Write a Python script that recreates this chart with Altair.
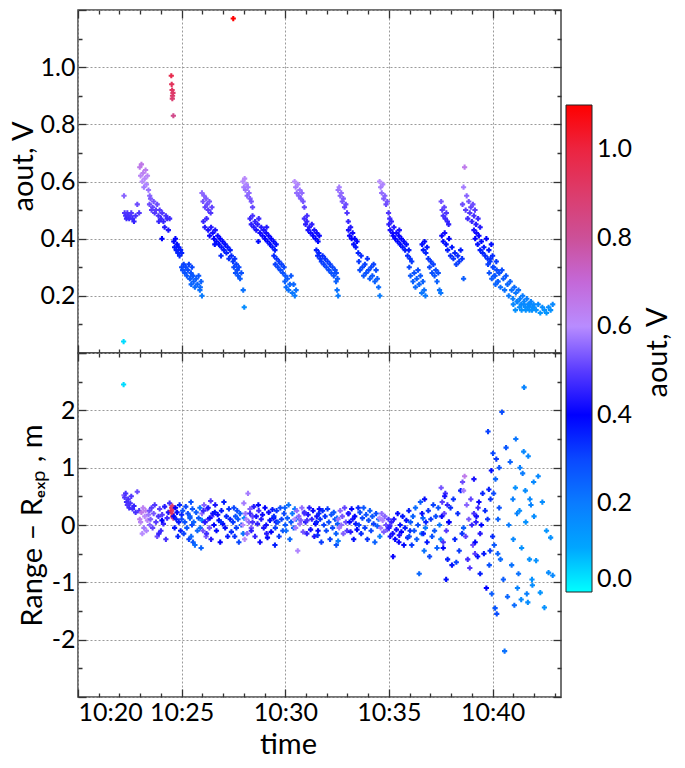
import altair as alt
import pandas as pd

# ---------------- data ----------------
# time in minutes after 10:00, aout in V, Range - R_exp in m
seg1_min = [22.22, 22.25, 22.30, 22.34, 22.38, 22.42, 22.47, 22.52, 22.57, 22.63, 22.70, 22.78, 22.86, 22.95,
            22.98, 23.02, 23.06, 23.10, 23.14, 23.18, 23.22, 23.26, 23.30, 23.35, 23.40, 23.46,
            23.45, 23.50, 23.55, 23.60, 23.65, 23.70, 23.76, 23.82, 23.88, 23.94, 24.00, 24.06, 24.12, 24.18, 24.24, 24.30, 24.36, 24.42, 23.90, 24.05,
            24.50, 24.52, 24.54, 24.56, 24.58, 24.55, 24.60,
            24.62, 24.66, 24.70, 24.74, 24.78, 24.82, 24.86, 24.90, 24.95, 25.00,
            25.00, 25.05, 25.10, 25.15, 25.20, 25.25, 25.30, 25.35, 25.40, 25.45, 25.50, 25.55,
            25.40, 25.46, 25.52, 25.58, 25.64, 25.70, 25.76, 25.82, 25.88, 25.94, 25.98, 25.90]
seg1_aout = [0.55, 0.49, 0.48, 0.47, 0.49, 0.48, 0.47, 0.48, 0.49, 0.47, 0.46, 0.48, 0.52, 0.49,
             0.65, 0.62, 0.66, 0.60, 0.63, 0.58, 0.61, 0.64, 0.59, 0.62, 0.57, 0.55,
             0.52, 0.54, 0.50, 0.51, 0.53, 0.49, 0.50, 0.52, 0.48, 0.50, 0.47, 0.49, 0.46, 0.44, 0.48, 0.47, 0.43, 0.47, 0.46, 0.40,
             0.97, 0.94, 0.92, 0.90, 0.91, 0.89, 0.83,
             0.39, 0.37, 0.40, 0.36, 0.38, 0.35, 0.37, 0.34, 0.36, 0.35,
             0.30, 0.29, 0.31, 0.28, 0.30, 0.27, 0.29, 0.31, 0.26, 0.28, 0.30, 0.27,
             0.26, 0.24, 0.27, 0.25, 0.23, 0.26, 0.24, 0.27, 0.22, 0.25, 0.20, 0.23]
seg1_dr = [0.52, 0.48, 0.55, 0.40, 0.35, 0.45, 0.30, 0.38, 0.50, 0.28, 0.33, 0.22, 0.58, 0.25,
           0.10, 0.05, 0.22, -0.15, 0.30, -0.05, 0.15, 0.25, -0.10, 0.08, 0.18, 0.00,
           0.25, 0.10, 0.30, -0.05, 0.20, 0.35, 0.05, -0.20, 0.15, 0.28, -0.10, 0.18, 0.02, 0.32, -0.25, 0.12, 0.22, 0.38, -0.15, 0.08,
           0.25, 0.30, 0.20, 0.15, 0.28, 0.33, 0.12,
           0.15, -0.05, 0.30, 0.10, 0.22, -0.20, 0.05, 0.35, -0.10, 0.18,
           0.10, 0.25, -0.15, 0.05, 0.32, -0.05, 0.20, -0.25, 0.12, 0.40, 0.00, -0.30,
           0.15, -0.20, 0.28, 0.05, -0.35, 0.22, -0.10, 0.12, 0.30, -0.40, 0.08, -0.05]

seg2_min = [25.98, 26.03, 26.08, 26.13, 26.18, 26.23, 26.28, 26.34, 26.40, 26.46,
            26.05, 26.12, 26.20, 26.28, 26.35, 26.42, 26.50, 26.56, 26.62, 26.68, 26.74, 26.80, 26.86, 26.92, 26.98, 27.04, 27.10, 27.16, 27.22, 27.28, 27.34, 27.40, 26.60, 26.90,
            27.48, 27.52, 27.56, 27.60, 27.64, 27.68, 27.72, 27.76, 27.82, 27.88, 27.97, 28.02]
seg2_aout = [0.56, 0.53, 0.55, 0.51, 0.54, 0.52, 0.50, 0.53, 0.49, 0.51,
             0.46, 0.44, 0.47, 0.43, 0.41, 0.44, 0.42, 0.40, 0.43, 0.39, 0.41, 0.38, 0.40, 0.37, 0.39, 0.36, 0.38, 0.35, 0.37, 0.33, 0.36, 0.34, 0.38, 0.34,
             0.32, 0.30, 0.33, 0.28, 0.31, 0.29, 0.27, 0.30, 0.26, 0.28, 0.22, 0.16]
seg2_dr = [0.20, -0.10, 0.35, 0.05, -0.20, 0.28, 0.10, -0.05, 0.42, 0.15,
           0.25, 0.05, -0.15, 0.30, 0.12, -0.25, 0.20, 0.00, 0.35, -0.10, 0.18, 0.08, -0.30, 0.25, 0.02, 0.40, -0.05, 0.15, -0.20, 0.28, 0.10, -0.12, 0.22, 0.05,
           0.05, 0.30, -0.20, 0.15, -0.05, 0.25, 0.10, -0.30, 0.20, 0.00, -0.15, 0.12]

seg3_min = [27.95, 28.00, 28.04, 28.08, 28.12, 28.16, 28.20, 28.25, 28.30, 28.36, 28.42,
            28.30, 28.36, 28.42, 28.48, 28.54, 28.60, 28.66, 28.72, 28.78, 28.84, 28.90, 28.96, 29.02, 29.08, 29.14, 29.20, 29.26, 29.32, 29.38, 29.44, 29.50, 29.56, 28.70, 29.10,
            29.45, 29.52, 29.58, 29.64, 29.70, 29.76, 29.82, 29.88, 29.94, 30.00,
            29.98, 30.04, 30.10, 30.16, 30.22, 30.28, 30.34, 30.40, 30.46, 30.52]
seg3_aout = [0.60, 0.58, 0.61, 0.57, 0.59, 0.55, 0.58, 0.56, 0.54, 0.53, 0.51,
             0.47, 0.45, 0.48, 0.44, 0.46, 0.43, 0.45, 0.47, 0.42, 0.44, 0.41, 0.43, 0.40, 0.42, 0.39, 0.41, 0.38, 0.40, 0.37, 0.39, 0.36, 0.38, 0.39, 0.44,
             0.34, 0.31, 0.33, 0.30, 0.32, 0.29, 0.31, 0.28, 0.30, 0.27,
             0.25, 0.23, 0.26, 0.22, 0.24, 0.27, 0.21, 0.24, 0.20, 0.22]
seg3_dr = [0.00, 0.38, -0.25, 0.20, 0.10, -0.15, 0.55, 0.05, 0.28, -0.05, 0.15,
           0.20, -0.10, 0.05, 0.32, -0.20, 0.15, 0.02, 0.25, -0.30, 0.10, 0.18, -0.05, 0.30, 0.00, -0.22, 0.22, 0.08, -0.12, 0.27, 0.12, -0.35, 0.05, 0.35, -0.15,
           0.15, -0.05, 0.25, 0.05, -0.20, 0.30, 0.10, -0.10, 0.20, 0.00,
           0.30, -0.10, 0.12, 0.35, -0.25, 0.05, 0.20, -0.05, 0.28, 0.10]

seg4_min = [30.45, 30.50, 30.55, 30.60, 30.65, 30.70, 30.75, 30.80, 30.86, 30.92,
            30.92, 30.98, 31.04, 31.10, 31.16, 31.22, 31.28, 31.34, 31.40, 31.46, 31.52, 31.58, 31.64, 31.05,
            31.50, 31.56, 31.62, 31.68, 31.74, 31.80, 31.86, 31.92, 31.98, 32.04, 32.10, 32.16, 32.22, 32.28, 32.34, 32.40, 32.46, 32.52, 32.45, 32.50, 32.55]
seg4_aout = [0.60, 0.58, 0.56, 0.59, 0.55, 0.57, 0.54, 0.56, 0.53, 0.51,
             0.47, 0.45, 0.46, 0.43, 0.44, 0.42, 0.45, 0.41, 0.43, 0.40, 0.42, 0.39, 0.41, 0.48,
             0.36, 0.34, 0.35, 0.33, 0.32, 0.34, 0.31, 0.33, 0.30, 0.32, 0.29, 0.31, 0.28, 0.30, 0.27, 0.29, 0.28, 0.26, 0.25, 0.22, 0.20]
seg4_dr = [0.10, -0.05, 0.25, -0.45, 0.15, 0.02, 0.08, 0.30, -0.12, 0.20,
           0.22, 0.05, -0.15, 0.18, 0.30, -0.08, 0.10, 0.25, -0.20, 0.02, 0.15, -0.10, 0.28, 0.08,
           0.05, -0.18, 0.20, 0.10, -0.30, 0.25, 0.00, 0.15, -0.10, 0.28, 0.05, -0.25, 0.18, -0.05, 0.22, 0.10, -0.35, 0.02, -0.15, 0.12, -0.28]

seg5_min = [32.55, 32.60, 32.65, 32.70, 32.75, 32.80, 32.86, 32.92, 32.98, 33.04,
            33.05, 33.10, 33.15, 33.20, 33.25, 33.30, 33.35, 33.40, 33.46, 33.52,
            33.55, 33.60, 33.66, 33.72, 33.78, 33.84, 33.90, 33.96, 34.02, 34.08, 34.14, 34.20, 34.26, 34.32, 34.38, 34.44, 34.50, 34.56]
seg5_aout = [0.57, 0.58, 0.55, 0.56, 0.53, 0.54, 0.51, 0.52, 0.49, 0.46,
             0.43, 0.41, 0.44, 0.40, 0.42, 0.38, 0.40, 0.37, 0.39, 0.35,
             0.32, 0.29, 0.34, 0.30, 0.27, 0.31, 0.28, 0.33, 0.29, 0.26, 0.30, 0.27, 0.31, 0.25, 0.29, 0.26, 0.23, 0.20]
seg5_dr = [0.10, -0.05, 0.25, 0.00, 0.15, -0.15, 0.30, 0.05, -0.10, 0.20,
           0.20, 0.05, -0.12, 0.28, 0.10, -0.25, 0.15, 0.02, -0.08, 0.30,
           0.00, 0.22, -0.15, 0.12, 0.30, -0.05, 0.18, -0.25, 0.08, 0.25, -0.10, 0.15, 0.02, -0.30, 0.20, -0.02, 0.10, -0.20]

seg6_min = [34.55, 34.60, 34.65, 34.70, 34.75, 34.80, 34.86, 34.92, 34.98, 35.04,
            35.00, 35.06, 35.12, 35.18, 35.24, 35.30, 35.36, 35.42, 35.48, 35.54, 35.60, 35.66, 35.72, 35.78, 35.84, 35.90, 35.96, 36.02, 35.20, 35.50,
            35.98, 36.04, 36.10, 36.16, 36.22, 36.28, 36.34, 36.40, 36.46, 36.52, 36.58, 36.64, 36.70, 36.76,
            36.60, 36.66, 36.72, 36.78, 36.84, 36.90, 36.96, 37.02, 37.08, 37.14, 37.20, 37.26, 37.32, 37.38, 37.44, 37.50]
seg6_aout = [0.60, 0.58, 0.56, 0.59, 0.54, 0.55, 0.52, 0.53, 0.49, 0.47,
             0.45, 0.43, 0.46, 0.42, 0.44, 0.40, 0.42, 0.39, 0.41, 0.38, 0.40, 0.37, 0.39, 0.36, 0.38, 0.34, 0.36, 0.33, 0.41, 0.43,
             0.30, 0.27, 0.32, 0.25, 0.28, 0.23, 0.26, 0.29, 0.24, 0.27, 0.21, 0.25, 0.22, 0.20,
             0.38, 0.36, 0.39, 0.35, 0.37, 0.33, 0.30, 0.32, 0.28, 0.31, 0.27, 0.29, 0.25, 0.28, 0.22, 0.21]
seg6_dr = [0.12, -0.05, 0.20, 0.08, -0.12, 0.15, 0.00, -0.08, 0.10, -0.02,
           -0.05, -0.20, 0.05, -0.15, 0.10, -0.25, -0.08, 0.20, -0.30, 0.00, -0.12, 0.15, -0.35, -0.05, 0.08, -0.22, 0.25, -0.10, -0.55, -0.18,
           -0.20, 0.05, -0.35, 0.15, -0.10, 0.30, -0.25, 0.00, -0.85, 0.40, -0.15, 0.12, -0.45, -0.05,
           0.20, -0.15, 0.45, 0.05, -0.30, 0.25, -0.55, 0.10, -0.20, 0.35, -0.10, 0.15, -0.40, 0.30, 0.00, -0.25]

seg7_min = [37.52, 37.57, 37.62, 37.67, 37.72, 37.77, 37.82, 37.88,
            37.55, 37.62, 37.69, 37.76, 37.83, 37.90, 37.97, 38.04, 38.11, 38.18, 38.25, 38.32, 38.39, 38.46, 38.53, 38.60,
            38.55, 38.60, 38.65, 38.70, 38.75, 38.80, 38.85, 38.90, 38.95, 39.00, 39.05, 39.10, 39.15, 39.20, 39.30, 39.40,
            39.10, 39.16, 39.22, 39.28, 39.34, 39.40, 39.46, 39.52, 39.58, 39.64, 39.70, 39.76, 39.82, 39.88, 39.94, 40.00,
            39.78, 39.84, 39.90, 39.96, 40.02, 40.08, 40.14, 40.20, 40.26, 40.32]
seg7_aout = [0.53, 0.50, 0.48, 0.51, 0.47, 0.49, 0.46, 0.45,
             0.41, 0.39, 0.42, 0.38, 0.36, 0.40, 0.34, 0.37, 0.33, 0.35, 0.31, 0.34, 0.32, 0.36, 0.33, 0.26,
             0.52, 0.58, 0.65, 0.50, 0.55, 0.47, 0.53, 0.49, 0.51, 0.46, 0.52, 0.48, 0.50, 0.45, 0.47, 0.44,
             0.43, 0.40, 0.42, 0.38, 0.41, 0.36, 0.39, 0.35, 0.37, 0.34, 0.40, 0.33, 0.36, 0.32, 0.38, 0.34,
             0.31, 0.28, 0.33, 0.26, 0.30, 0.27, 0.24, 0.29, 0.25, 0.28]
seg7_dr = [0.65, 0.40, -0.30, 0.20, 0.55, -0.10, 0.35, 0.05,
           0.15, -0.40, 0.50, -0.95, -0.60, 0.05, 0.30, -0.70, 0.45, -0.25, -0.65, 0.20, -0.45, 0.60, -0.15, -0.05,
           0.75, 0.60, 0.85, -0.20, 0.35, -0.60, 0.10, -0.75, 0.45, 0.00, -0.35, 0.20, -0.50, 0.05, 0.30, -0.15,
           0.80, -0.30, 0.15, -0.55, 0.40, -0.85, 0.00, 0.55, -0.50, 0.25, -1.10, 0.10, 0.62, -0.45, 0.95, -0.20,
           1.63, -0.70, 0.45, -1.20, 1.25, -0.35, 0.80, -1.55, 0.10, 1.00]

seg8_min = [40.05, 40.12, 40.18, 40.25, 40.32, 40.38, 40.45, 40.52, 40.58, 40.65,
            40.72, 40.78, 40.85, 40.92, 40.98, 41.05, 41.12, 41.18, 41.25, 41.32,
            41.38, 41.45, 41.52, 41.58, 41.65, 41.72, 41.78, 41.85, 41.92, 41.98,
            41.00, 41.10, 41.20, 41.30, 41.40, 41.50, 41.60, 41.70, 41.80, 41.90,
            42.00, 42.10, 42.20, 42.30, 42.40, 42.50, 42.60, 42.70, 42.80, 42.90]
seg8_aout = [0.30, 0.27, 0.32, 0.25, 0.28, 0.23, 0.29, 0.26, 0.22, 0.27,
             0.24, 0.20, 0.25, 0.22, 0.19, 0.23, 0.21, 0.18, 0.22, 0.19,
             0.17, 0.20, 0.18, 0.16, 0.19, 0.17, 0.15, 0.18, 0.16, 0.17,
             0.17, 0.15, 0.18, 0.16, 0.15, 0.17, 0.15, 0.16, 0.17, 0.15,
             0.16, 0.15, 0.17, 0.14, 0.16, 0.15, 0.14, 0.16, 0.15, 0.17]
seg8_dr = [0.55, -1.45, 1.15, -0.50, 0.30, -0.60, 1.97, -0.95, -2.20, 1.35,
           -1.25, 0.00, 1.10, -0.70, 0.45, -1.40, 1.50, 0.20, -0.85, 1.00,
           -1.30, 0.90, 2.40, 0.60, -1.20, 1.20, -0.60, 0.35, -1.05, 0.75,
           -0.25, 0.65, -1.10, 0.25, -0.40, 1.28, 0.05, -1.35, 0.45, -0.95,
           0.15, -0.62, 0.85, -1.18, 0.40, -1.44, -0.10, -0.83, -0.22, -0.88]

outlier_min = [22.20, 27.49]
outlier_aout = [0.04, 1.17]
outlier_dr = [2.45, None]

# axis tick values and colour-bar values
X_TICKS = [20, 21, 22, 23, 24, 25, 26, 27, 28, 29, 30, 31, 32, 33, 34, 35, 36, 37, 38, 39, 40, 41, 42, 43]
TOP_Y_TICKS = [0.0, 0.1, 0.2, 0.3, 0.4, 0.5, 0.6, 0.7, 0.8, 0.9, 1.0, 1.1, 1.2]
BOT_Y_TICKS = [-3, -2.5, -2, -1.5, -1, -0.5, 0, 0.5, 1, 1.5, 2, 2.5, 3]
CBAR_VALUES = [0.0, 0.2, 0.4, 0.6, 0.8, 1.0]

# colour map stops
CMAP_STOPS = [0.0, 0.1, 0.2, 0.3, 0.4, 0.5, 0.6, 0.7, 0.8, 0.9, 1.0, 1.1]
CMAP_COLORS = ["#00ffff", "#00a6ff", "#0a7cff", "#0a48ff", "#0000ff", "#5a3cff",
               "#b88cff", "#c468d8", "#cc5098", "#dc3c6c", "#ec2440", "#ff0000"]

# ---------------- build table ----------------
minutes, aout, dr = [], [], []
for m, a, r in [(seg1_min, seg1_aout, seg1_dr), (seg2_min, seg2_aout, seg2_dr),
                (seg3_min, seg3_aout, seg3_dr), (seg4_min, seg4_aout, seg4_dr),
                (seg5_min, seg5_aout, seg5_dr), (seg6_min, seg6_aout, seg6_dr),
                (seg7_min, seg7_aout, seg7_dr), (seg8_min, seg8_aout, seg8_dr),
                (outlier_min, outlier_aout, outlier_dr)]:
    minutes += m
    aout += a
    dr += r
df = pd.DataFrame({"minute": minutes, "aout": aout, "dr": dr})
df_top = df[["minute", "aout"]]
df_bot = df.dropna()

FONT = "Lato"
TICK_C = "#333333"
W = 483
H_TOP = 343
H_BOT = 344

x_scale = alt.Scale(domain=[20, 43.3], nice=False, zero=False)
top_y_scale = alt.Scale(domain=[0, 1.2], nice=False, zero=False)
bot_y_scale = alt.Scale(domain=[-3, 3], nice=False, zero=False)
color_scale = alt.Scale(domain=CMAP_STOPS, range=CMAP_COLORS, interpolate="rgb", clamp=True)

X_MAJ = "datum.value % 5 == 0"
TY_MAJ = "round(datum.value * 10) % 2 == 0"
BY_MAJ = "datum.value % 1 == 0"


def dash(test):
    return {"condition": {"test": test, "value": [8, 0]}, "value": [0, 4, 4, 0]}


def gridop(test):
    return {"condition": {"test": test, "value": 1}, "value": 0}


common = dict(domain=False, offset=-8, tickSize=8, tickColor=TICK_C, tickWidth=1.3,
              labelFont=FONT, labelFontSize=25, labelColor="black",
              titleFont=FONT, titleFontSize=29, titleFontWeight="normal", titleColor="black",
              gridColor="#9a9a9a", gridDash=[2, 2], gridWidth=1)

legend = alt.Legend(orient="none", legendX=488, legendY=95, direction="vertical",
                    gradientLength=487, gradientThickness=26,
                    gradientStrokeColor="#222222", gradientStrokeWidth=1,
                    values=CBAR_VALUES, format=".1f", labelFont=FONT, labelFontSize=25,
                    labelColor="black", labelOffset=5, labelOverlap=False, title=None)

# ---------------- top panel ----------------
top_pts = alt.Chart(df_top).mark_point(shape="cross", filled=True, size=27, opacity=1).encode(
    x=alt.X("minute:Q", scale=x_scale,
            axis=alt.Axis(orient="bottom", values=X_TICKS, labels=False, title=None,
                          grid=True, gridOpacity=gridop(X_MAJ), tickDash=dash(X_MAJ), **common)),
    y=alt.Y("aout:Q", scale=top_y_scale,
            axis=alt.Axis(orient="left", values=TOP_Y_TICKS, title="aout, V", titleY=156,
                          labelExpr="(" + TY_MAJ + ") && datum.value > 0.05 && datum.value < 1.05 ? format(datum.value, '.1f') : ''",
                          labelPadding=3, titlePadding=2,
                          grid=True, gridOpacity=gridop(TY_MAJ), tickDash=dash(TY_MAJ), **common)),
    color=alt.Color("aout:Q", scale=color_scale, legend=legend),
)
top_mirror = alt.Chart(df_top).mark_point(opacity=0).encode(
    x=alt.X("minute:Q", scale=x_scale,
            axis=alt.Axis(orient="top", values=X_TICKS, labels=False, title=None, grid=False,
                          tickDash=dash(X_MAJ), **common)),
    y=alt.Y("aout:Q", scale=top_y_scale,
            axis=alt.Axis(orient="right", values=TOP_Y_TICKS, labels=False, grid=False,
                          title="aout, V", titleX=113, titleY=342, titleAngle=270,
                          titleAlign="center", titleBaseline="alphabetic",
                          tickDash=dash(TY_MAJ), **common)),
)
top = alt.layer(top_pts, top_mirror).resolve_axis(x="independent", y="independent").properties(
    width=W, height=H_TOP)

# ---------------- bottom panel ----------------
bot_pts = alt.Chart(df_bot).mark_point(shape="cross", filled=True, size=27, opacity=1).encode(
    x=alt.X("minute:Q", scale=x_scale,
            axis=alt.Axis(orient="bottom", values=X_TICKS, title="time", titleX=210,
                          labelExpr="(" + X_MAJ + ") ? '10:' + datum.value : ''",
                          labelPadding=3, titlePadding=5,
                          grid=True, gridOpacity=gridop(X_MAJ), tickDash=dash(X_MAJ), **common)),
    y=alt.Y("dr:Q", scale=bot_y_scale,
            axis=alt.Axis(orient="left", values=BOT_Y_TICKS, title="Range \u2013 R\u2091\u2093\u209a , m",
                          labelExpr="(" + BY_MAJ + ") && abs(datum.value) < 2.5 ? '' + datum.value : ''",
                          labelPadding=3, titlePadding=4,
                          grid=True, gridOpacity=gridop(BY_MAJ), tickDash=dash(BY_MAJ), **common)),
    color=alt.Color("aout:Q", scale=color_scale, legend=legend),
)
bot_mirror = alt.Chart(df_bot).mark_point(opacity=0).encode(
    x=alt.X("minute:Q", scale=x_scale,
            axis=alt.Axis(orient="top", values=X_TICKS, labels=False, title=None, grid=False,
                          tickDash=dash(X_MAJ), **common)),
    y=alt.Y("dr:Q", scale=bot_y_scale,
            axis=alt.Axis(orient="right", values=BOT_Y_TICKS, labels=False, title=None, grid=False,
                          tickDash=dash(BY_MAJ), **common)),
)
bottom = alt.layer(bot_pts, bot_mirror).resolve_axis(x="independent", y="independent").properties(
    width=W, height=H_BOT)

chart = alt.vconcat(top, bottom, spacing=0, bounds="flush").resolve_scale(color="shared").properties(
    padding=0
).configure_view(stroke="#444444", strokeWidth=1.5).configure_legend(labelFont=FONT)

chart.save("out.html", embed_options={"renderer": "svg", "actions": False})
